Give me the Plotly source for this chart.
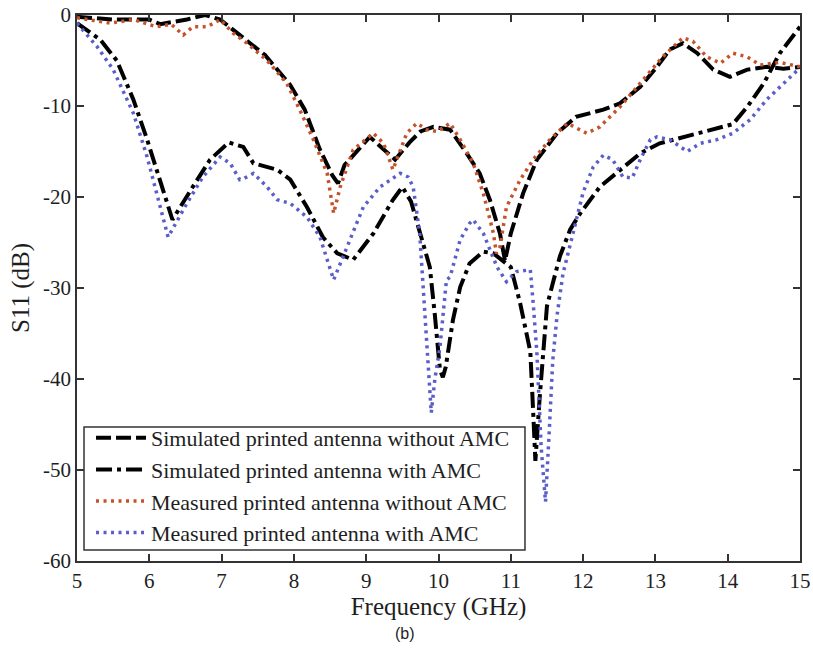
import plotly.graph_objects as go

# ---- data ----
sim_no_f = [5.0, 5.5, 6.0, 6.15, 6.52, 6.77, 6.98, 7.25, 7.6, 7.95, 8.15, 8.36, 8.53, 8.61, 8.7, 9.05, 9.4,
            9.6, 9.75, 9.93, 10.16, 10.39, 10.57, 10.71, 10.85, 10.92, 11.0, 11.17, 11.36, 11.64, 11.9, 12.28,
            12.51, 12.79, 13.02, 13.2, 13.38, 13.58, 13.8, 14.03, 14.27, 14.54, 14.77, 15.0]
sim_no_s = [-0.2, -0.5, -0.5, -1.0, -0.5, 0.0, -0.5, -2.2, -4.4, -7.7, -10.4, -14.8, -17.6, -18.5, -16.5, -13.4, -15.9,
            -14.0, -12.8, -12.3, -12.6, -15.2, -17.4, -20.3, -24.0, -27.0, -24.0, -19.6, -15.9, -13.0, -11.2, -10.4,
            -9.7, -7.9, -5.7, -3.8, -3.1, -4.2, -6.0, -6.8, -6.0, -5.7, -5.9, -5.7]

sim_amc_f = [5.0, 5.32, 5.55, 5.78, 5.97, 6.15, 6.29, 6.32, 6.6, 6.84, 7.1, 7.3, 7.44, 7.77, 7.95, 8.18, 8.4, 8.6,
             8.82, 9.1, 9.37, 9.5, 9.62, 9.74, 9.88, 9.95, 10.02, 10.06, 10.1, 10.2, 10.3, 10.43, 10.62, 10.76,
             11.0, 11.13, 11.22, 11.27, 11.31, 11.34, 11.4, 11.45, 11.5, 11.58, 11.68, 11.82, 11.96, 12.23, 12.51,
             12.79, 13.06, 13.38, 13.75, 14.07, 14.27, 14.5, 14.72, 15.0]
sim_amc_s = [-0.9, -2.7, -5.0, -9.3, -13.7, -18.1, -21.8, -22.5, -18.9, -15.9, -14.0, -14.5, -16.3, -17.0, -18.1,
             -21.1, -24.4, -26.2, -26.9, -24.0, -20.3, -18.9, -20.5, -24.0, -27.7, -33.0, -39.0, -39.8, -38.7, -33.5,
             -29.9, -27.3, -26.0, -26.2, -27.7, -31.7, -35.4, -37.0, -43.7, -49.0, -42.0, -36.5, -32.0, -29.5, -26.5,
             -23.6, -21.8, -18.9, -17.0, -15.2, -14.1, -13.4, -12.6, -12.0, -10.1, -7.5, -4.2, -1.3]

meas_no_f = [5.0, 5.46, 5.78, 6.1, 6.3, 6.47, 6.6, 6.8, 6.98, 7.16, 7.35, 7.63, 7.9, 8.08, 8.27, 8.46, 8.55, 8.64,
             8.82, 9.1, 9.24, 9.37, 9.56, 9.7, 9.84, 9.98, 10.16, 10.3, 10.48, 10.62, 10.76, 10.8, 10.85, 10.94,
             11.13, 11.31, 11.54, 11.78, 12.05, 12.23, 12.51, 12.79, 13.1, 13.38, 13.52, 13.71, 13.9, 14.07, 14.27,
             14.45, 14.72, 15.0]
meas_no_s = [-0.3, -0.9, -0.5, -1.3, -1.0, -2.2, -1.3, -1.3, -0.5, -2.0, -3.1, -5.0, -7.5, -10.4, -13.7, -17.4, -21.8,
             -18.9, -14.8, -13.0, -14.1, -17.0, -13.0, -11.9, -12.6, -12.8, -11.9, -13.7, -16.3, -19.6, -24.0, -26.2,
             -25.5, -21.1, -18.1, -15.9, -13.7, -11.9, -13.0, -12.3, -10.1, -7.5, -4.6, -2.5, -2.9, -4.6, -5.3, -4.2,
             -4.6, -5.5, -5.2, -5.7]

meas_amc_f = [5.0, 5.28, 5.5, 5.78, 5.97, 6.15, 6.26, 6.52, 6.74, 6.98, 7.12, 7.25, 7.3, 7.44, 7.63, 7.77, 7.95,
              8.18, 8.36, 8.55, 8.73, 8.96, 9.19, 9.47, 9.58, 9.65, 9.74, 9.79, 9.84, 9.9, 9.95, 10.02, 10.11,
              10.16, 10.3, 10.43, 10.48, 10.62, 10.81, 10.94, 11.08, 11.27, 11.31, 11.36, 11.42, 11.48, 11.53,
              11.58, 11.64, 11.72, 11.86, 12.0, 12.14, 12.28, 12.41, 12.55, 12.68, 12.79, 12.93, 13.02, 13.2,
              13.44, 13.62, 13.85, 14.07, 14.31, 14.54, 14.77, 15.0]
meas_amc_s = [-0.9, -3.5, -6.0, -10.8, -15.6, -21.1, -24.4, -20.7, -17.8, -15.6, -16.3, -18.1, -18.0, -17.4, -18.9,
              -20.3, -20.7, -22.2, -24.4, -29.1, -25.5, -21.1, -18.9, -17.4, -17.8, -18.9, -24.0, -29.9, -36.5,
              -43.7, -40.0, -36.5, -29.1, -28.8, -24.7, -22.9, -22.5, -24.0, -27.7, -29.3, -28.2, -28.0, -31.7,
              -37.0, -47.5, -53.5, -46.0, -38.0, -33.0, -28.5, -24.0, -19.5, -16.7, -15.4, -15.9, -17.8, -17.9,
              -15.9, -13.7, -13.4, -13.7, -15.0, -14.1, -13.7, -13.0, -11.5, -9.3, -7.5, -5.8]

series_names = ["Simulated printed antenna without AMC",
                "Simulated printed antenna with AMC",
                "Measured printed antenna without AMC",
                "Measured printed antenna with AMC"]

x_ticks = [5, 6, 7, 8, 9, 10, 11, 12, 13, 14, 15]
x_tick_text = ["5", "6", "7", "8", "9", "10", "11", "12", "13", "14", "15"]
y_ticks = [0, -10, -20, -30, -40, -50, -60]
y_tick_text = ["0", "-10", "-20", "-30", "-40", "-50", "-60"]

SERIF = "Liberation Serif, Times New Roman, serif"
TXT = "#1e1e1e"

fig = go.Figure()
fig.add_trace(go.Scatter(x=sim_no_f, y=sim_no_s, mode="lines", name=series_names[0],
                         line=dict(color="black", width=4, dash="15px,5px")))
fig.add_trace(go.Scatter(x=sim_amc_f, y=sim_amc_s, mode="lines", name=series_names[1],
                         line=dict(color="black", width=4, dash="16px,5px,4px,5px")))
fig.add_trace(go.Scatter(x=meas_no_f, y=meas_no_s, mode="lines", name=series_names[2],
                         line=dict(color="#c4522a", width=3.5, dash="3px,4.5px")))
fig.add_trace(go.Scatter(x=meas_amc_f, y=meas_amc_s, mode="lines", name=series_names[3],
                         line=dict(color="#5a5ec8", width=3.5, dash="3px,4.5px")))

axis_common = dict(showgrid=False, zeroline=False, showline=True, linecolor="#333333", linewidth=1.5,
                   mirror="ticks", ticks="inside", ticklen=7, tickwidth=1.5, tickcolor="#333333",
                   automargin=False,
                   tickfont=dict(family=SERIF, size=21, color=TXT))

fig.update_xaxes(range=[5, 15], tickvals=x_ticks, ticktext=x_tick_text,
                 title=dict(text="Frequency (GHz)", font=dict(family=SERIF, size=25, color=TXT), standoff=2),
                 **axis_common)
fig.update_yaxes(range=[-60, 0], tickvals=y_ticks, ticktext=y_tick_text,
                 title=dict(text="S11 (dB)", font=dict(family=SERIF, size=25, color=TXT), standoff=6),
                 **axis_common)

fig.update_layout(
    width=813, height=662,
    margin=dict(l=77, r=13, t=15, b=101),
    paper_bgcolor="white", plot_bgcolor="white",
    showlegend=True,
    shapes=[dict(type="rect", xref="paper", yref="paper", x0=0.0097, x1=0.6196, y0=0.0201, y1=0.2454,
                 fillcolor="white", line=dict(color="#333333", width=1.5), layer="above")],
    legend=dict(x=0.0194, y=0.0128, xanchor="left", yanchor="bottom",
                bgcolor="rgba(0,0,0,0)", borderwidth=0,
                font=dict(family=SERIF, size=22, color=TXT),
                itemwidth=50, tracegroupgap=0),
    annotations=[dict(text="(b)", xref="paper", yref="paper", x=0.453, y=-0.133,
                      xanchor="center", yanchor="middle", showarrow=False,
                      font=dict(family="Liberation Sans, Arial, sans-serif", size=16, color=TXT))],
)

fig.write_html("out.html")
